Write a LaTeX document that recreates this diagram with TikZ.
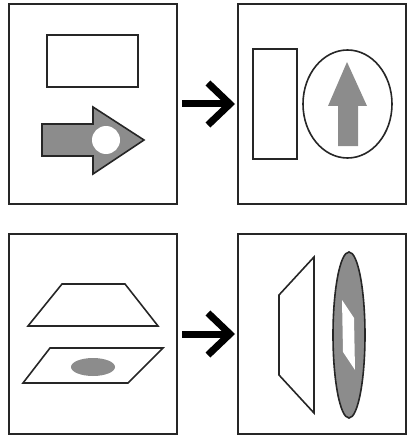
\documentclass[tikz,border=0pt]{standalone}
\usetikzlibrary{arrows.meta,positioning}
\definecolor{ink}{gray}{0.15}
\definecolor{midgray}{gray}{0.55}

\begin{document}
\begin{tikzpicture}[x=1pt,y=-1pt,
  panel/.style={draw=ink,line width=2pt,minimum width=168pt,minimum height=200pt,inner sep=0pt,outer sep=0pt},
  outline/.style={draw=ink,line width=1.6pt},
  goes/.style={line width=7pt,-{Straight Barb[length=22pt,width=42pt]}}]
  \useasboundingbox (0,0) rectangle (409,441);
  \node[panel] (tl) at (93,104) {};
  \node[panel,right=61pt of tl] (tr) {};
  \node[panel,below=30pt of tl] (bl) {};
  \node[panel,right=61pt of bl] (br) {};
  \draw[goes] ([xshift=5pt]tl.east) -- ([xshift=-3pt]tr.west);
  \draw[goes] ([xshift=5pt]bl.east) -- ([xshift=-3pt]br.west);
  \draw[outline] (47,35) rectangle (138,87);
  \draw[outline,fill=midgray] (42,124) -- (93,124) -- (93,107) -- (144,140) -- (93,174) -- (93,156) -- (42,156) -- cycle;
  \fill[white] (106,140) circle (14);
  \draw[outline] (253,49) rectangle (297,159);
  \draw[outline] (347.5,104) ellipse [x radius=44.5,y radius=54];
  \fill[midgray] (347,62) -- (367,106) -- (358,106) -- (358,146) -- (338,146) -- (338,106) -- (328,106) -- cycle;
  \draw[outline] (62,284) -- (125,284) -- (158,326) -- (28,326) -- cycle;
  \draw[outline] (50,348) -- (163,348) -- (128,383) -- (23,383) -- cycle;
  \fill[midgray] (93,367) ellipse [x radius=22,y radius=9];
  \draw[outline] (314,257) -- (314,413) -- (279,375) -- (279,295) -- cycle;
  \draw[outline,fill=midgray] (349,335) ellipse [x radius=16,y radius=83];
  \fill[white] (342,300) -- (354,318) -- (355,370) -- (343,352) -- cycle;
\end{tikzpicture}
\end{document}
